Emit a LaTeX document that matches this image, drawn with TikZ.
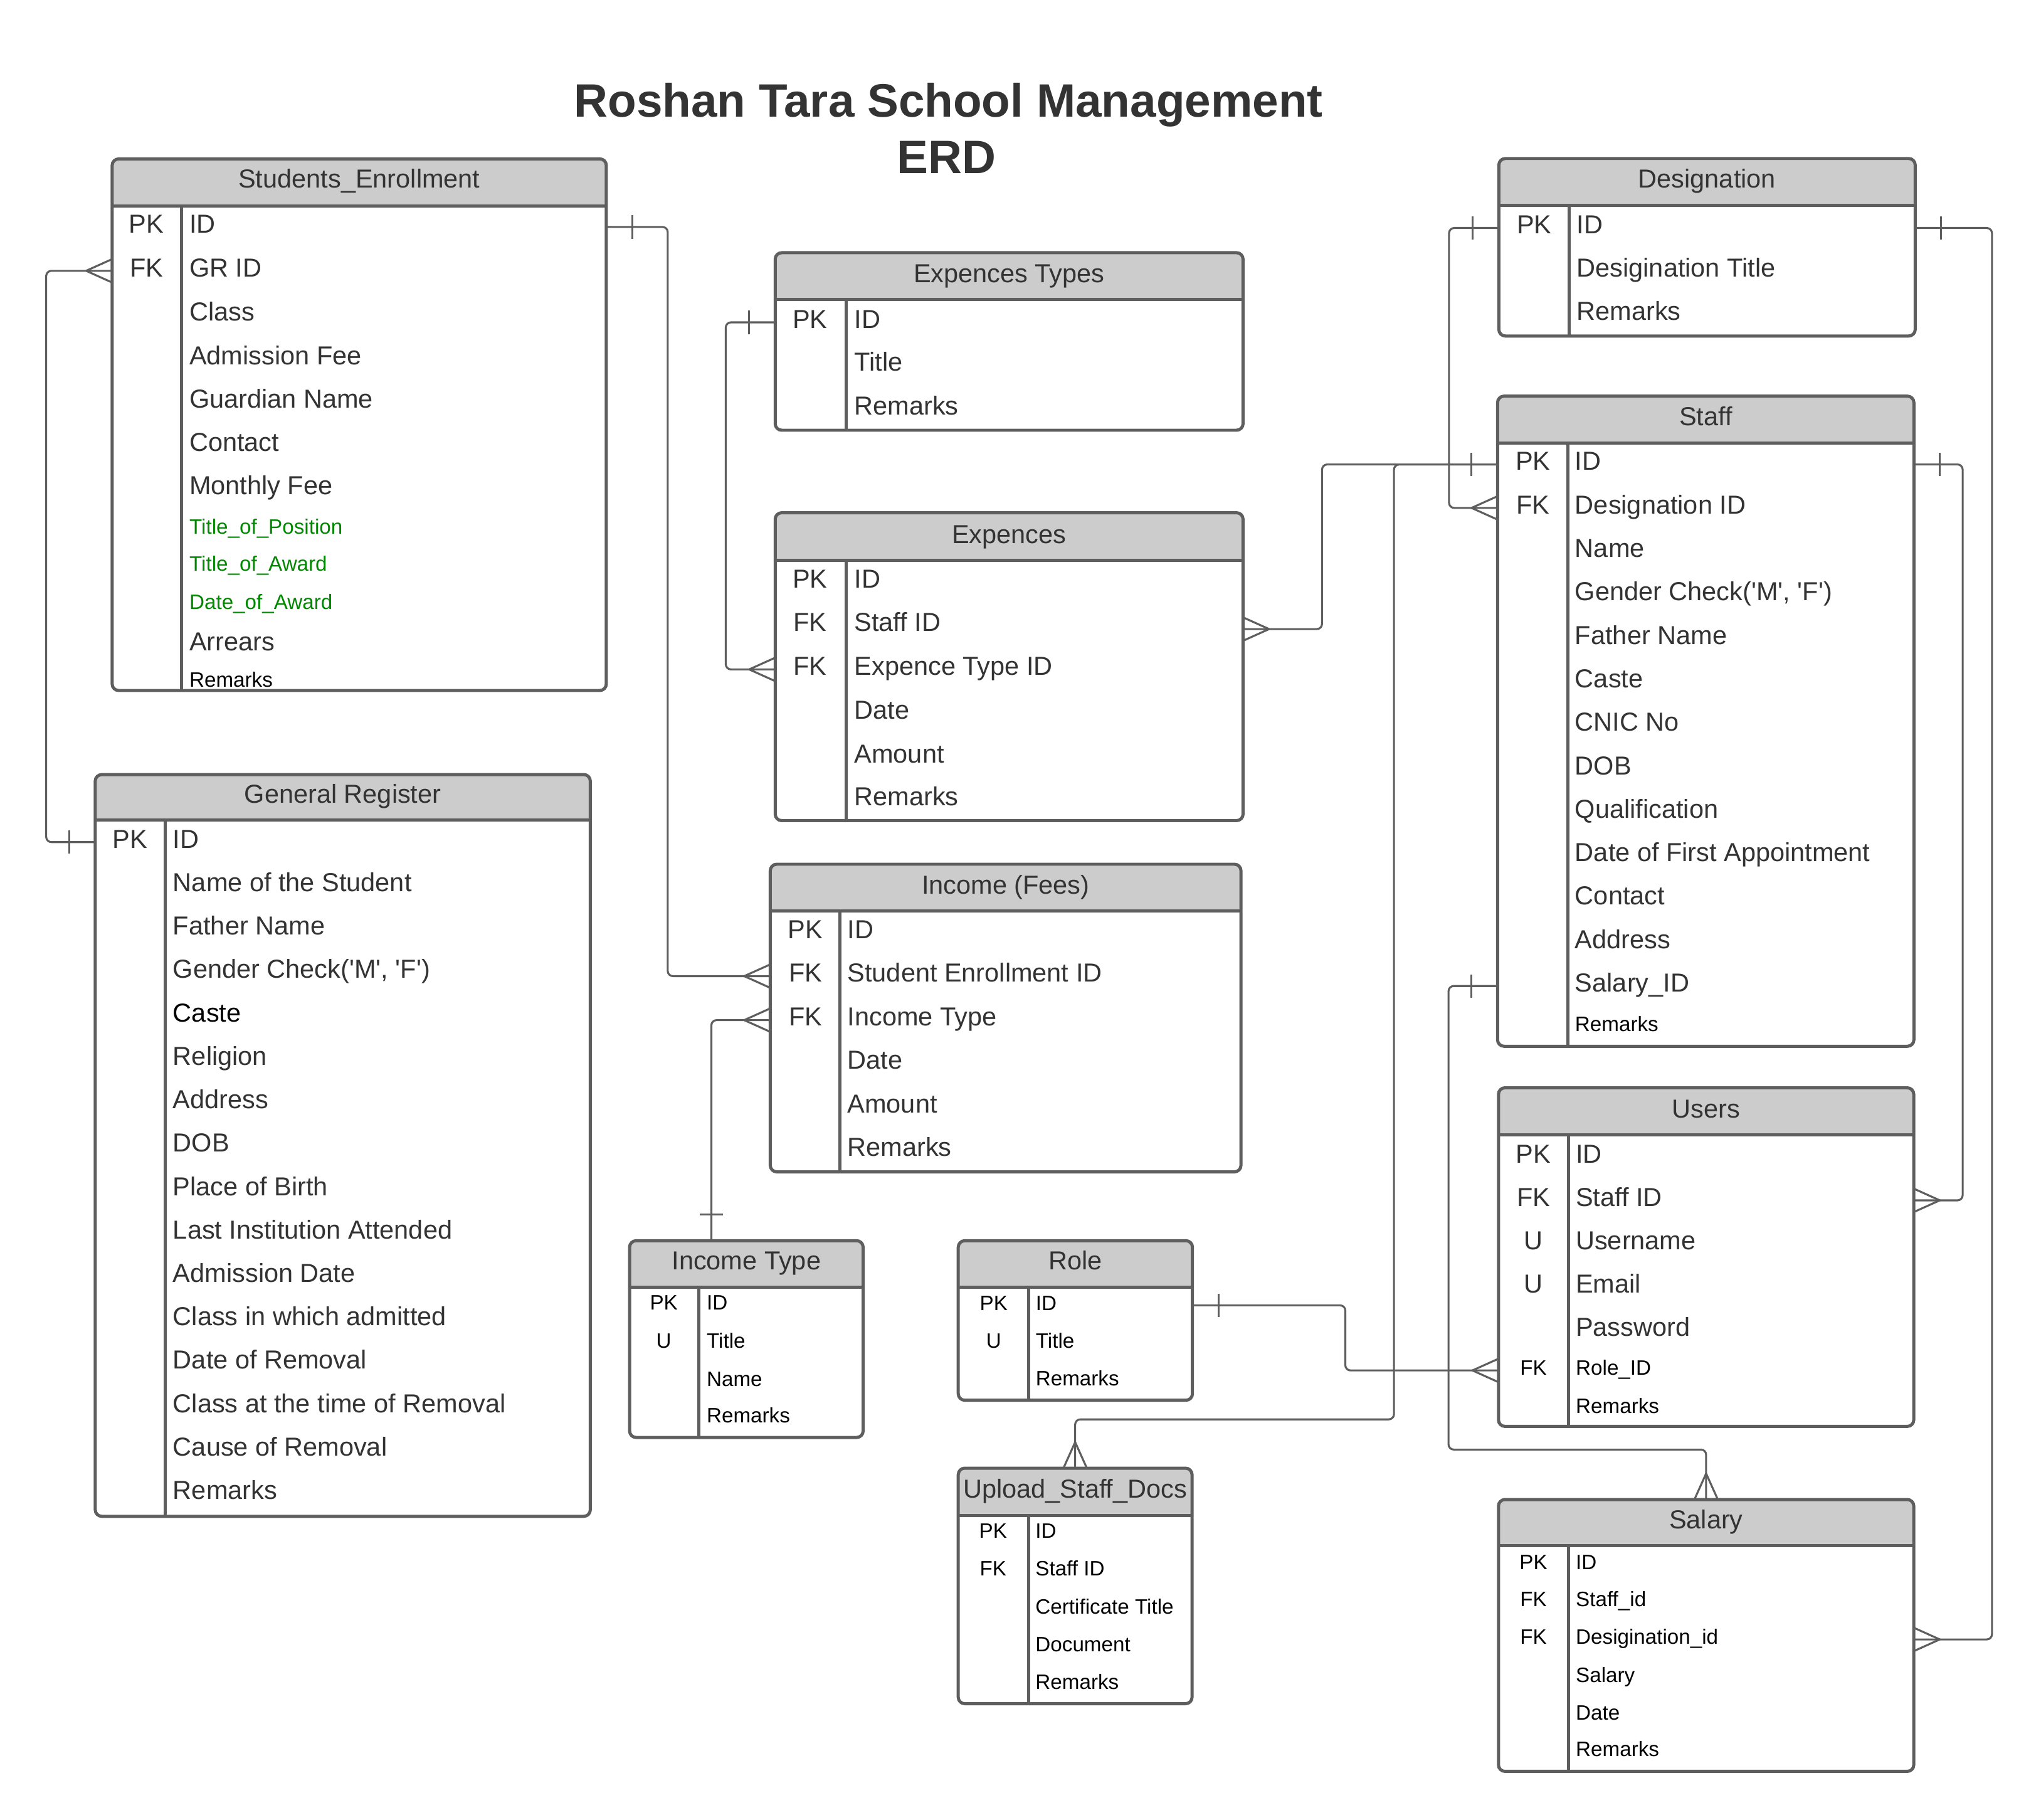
\documentclass[tikz,border=0pt]{standalone}
\usepackage{fontspec}
\setmainfont{Liberation Sans}
\usetikzlibrary{calc}
\definecolor{linec}{RGB}{94,94,94}
\definecolor{hdrc}{RGB}{204,204,204}
\definecolor{txt}{RGB}{51,51,51}
\definecolor{grn}{RGB}{0,136,0}
\newcommand{\sq}{\textquotesingle}
\tikzset{
  tbox/.style={inner sep=0pt, outer sep=0pt, anchor=north west},
  tline/.style={draw=linec, line width=2.4pt},
  hcell/.style={anchor=base, inner sep=0pt, font=\fontsize{20}{24}\selectfont, text=txt},
  acell/.style={anchor=west, inner sep=0pt, text height=14pt, text depth=5pt, font=\fontsize{20}{24}\selectfont, text=txt},
  kcell/.style={anchor=center, inner sep=0pt, text height=14pt, text depth=5pt, font=\fontsize{20}{24}\selectfont, text=txt},
  scell/.style={anchor=west, inner sep=0pt, text height=11.5pt, text depth=4.1pt, font=\fontsize{16}{19}\selectfont, text=black},
  skcell/.style={anchor=center, inner sep=0pt, text height=11.5pt, text depth=4.1pt, font=\fontsize{16}{19}\selectfont, text=black},
  gcell/.style={scell, text=grn},
  connl/.style={draw=linec, line width=1.5pt, rounded corners=4pt},
  crowl/.style={draw=linec, line width=1.5pt, line join=round},
  ttl/.style={anchor=base, inner sep=0pt, font=\fontsize{36}{43}\selectfont\bfseries, text=txt}
}
% #1 name, #2 left, #3 top, #4 right, #5 header bottom, #6 bottom, #7 divider x
\newcommand{\tframe}[7]{%
  \node[tbox, minimum width={#4-#2}, minimum height={#6-#3}] (#1) at (#2,#3) {};
  \begin{scope}
    \clip[rounded corners=5pt] (#2,#3) rectangle (#4,#6);
    \fill[hdrc] (#2,#3) rectangle (#4,#5);
  \end{scope}
  \draw[tline, rounded corners=5pt] (#2,#3) rectangle (#4,#6);
  \draw[tline] (#2,#5) -- (#4,#5);
  \draw[tline] (#7,#5) -- (#7,#6);
}
\newcommand{\barH}[2]{\draw[crowl] ($(#1)+(#2,-9)$) -- ($(#1)+(#2,9)$);}
\newcommand{\barV}[2]{\draw[crowl] ($(#1)+(-9,#2)$) -- ($(#1)+(9,#2)$);}
\newcommand{\crowH}[2]{\draw[crowl] ($(#1)+(0,-9)$) -- ($(#1)+(#2,0)$) -- ($(#1)+(0,9)$);}
\newcommand{\crowV}[2]{\draw[crowl] ($(#1)+(-9,0)$) -- ($(#1)+(0,#2)$) -- ($(#1)+(9,0)$);}
\begin{document}
\begin{tikzpicture}[x=1pt, y=-1pt]
\fill[white] (0,0) rectangle (1568.7,1398.1);
\useasboundingbox (0,0) rectangle (1568.7,1398.1);

% Title
\node[ttl] (title) at (729,90) {Roshan Tara School Management};
\node[ttl] (title2) at (727.3,133.3) {ERD};

% Students_Enrollment
\tframe{se}{86.2}{122.1}{466}{158.3}{530.6}{139.6}
\node[hcell] (se-h) at (276.1,144.5) {Students\_Enrollment};
\node[kcell] (se-k1) at (112.6,174.4) {PK};
\node[acell] (se-r1) at (145.4,174.4) {ID};
\node[kcell] (se-k2) at (112.6,208.1) {FK};
\node[acell] (se-r2) at (145.4,208.1) {GR ID};
\node[acell] (se-r3) at (145.4,241.9) {Class};
\node[acell] (se-r4) at (145.4,275.6) {Admission Fee};
\node[acell] (se-r5) at (145.4,308.8) {Guardian Name};
\node[acell] (se-r6) at (145.4,342.1) {Contact};
\node[acell] (se-r7) at (145.4,375.4) {Monthly Fee};
\node[gcell] (se-r8) at (145.4,406.5) {Title\_of\_Position};
\node[gcell] (se-r9) at (145.4,435.1) {Title\_of\_Award};
\node[gcell] (se-r10) at (145.4,464.3) {Date\_of\_Award};
\node[acell] (se-r11) at (145.4,495.7) {Arrears};
\node[scell] (se-r12) at (145.4,524.2) {Remarks};

% General Register
\tframe{gr}{73.2}{595.2}{453.7}{630.2}{1165.2}{127}
\node[hcell] (gr-h) at (263.45,617) {General Register};
\node[kcell] (gr-k1) at (99.9,647.1) {PK};
\node[acell] (gr-r1) at (132.8,647.1) {ID};
\node[acell] (gr-r2) at (132.8,680.5) {Name of the Student};
\node[acell] (gr-r3) at (132.8,713.8) {Father Name};
\node[acell] (gr-r4) at (132.8,747.2) {Gender Check(\sq M\sq, \sq F\sq)};
\node[acell, text=black] (gr-r5) at (132.8,780.6) {Caste};
\node[acell] (gr-r6) at (132.8,813.9) {Religion};
\node[acell] (gr-r7) at (132.8,847.3) {Address};
\node[acell] (gr-r8) at (132.8,880.7) {DOB};
\node[acell] (gr-r9) at (132.8,914.1) {Place of Birth};
\node[acell] (gr-r10) at (132.8,947.4) {Last Institution Attended};
\node[acell] (gr-r11) at (132.8,980.8) {Admission Date};
\node[acell] (gr-r12) at (132.8,1014.2) {Class in which admitted};
\node[acell] (gr-r13) at (132.8,1047.5) {Date of Removal};
\node[acell] (gr-r14) at (132.8,1080.9) {Class at the time of Removal};
\node[acell] (gr-r15) at (132.8,1114.3) {Cause of Removal};
\node[acell] (gr-r16) at (132.8,1147.7) {Remarks};

% Expences Types
\tframe{et}{595.8}{194.2}{955.4}{229.9}{330.6}{650.5}
\node[hcell] (et-h) at (775.6,217.2) {Expences Types};
\node[kcell] (et-k1) at (622.6,247.7) {PK};
\node[acell] (et-r1) at (656.5,247.7) {ID};
\node[acell] (et-r2) at (656.5,280.7) {Title};
\node[acell] (et-r3) at (656.5,314.3) {Remarks};

% Expences
\tframe{ex}{595.8}{394}{955.4}{430.8}{630.6}{650.5}
\node[hcell] (ex-h) at (775.6,417.5) {Expences};
\node[kcell] (ex-k1) at (622.6,447.3) {PK};
\node[acell] (ex-r1) at (656.5,447.3) {ID};
\node[kcell] (ex-k2) at (622.6,480.8) {FK};
\node[acell] (ex-r2) at (656.5,480.8) {Staff ID};
\node[kcell] (ex-k3) at (622.6,514.4) {FK};
\node[acell] (ex-r3) at (656.5,514.4) {Expence Type ID};
\node[acell] (ex-r4) at (656.5,548) {Date};
\node[acell] (ex-r5) at (656.5,581.6) {Amount};
\node[acell] (ex-r6) at (656.5,614.6) {Remarks};

% Income (Fees)
\tframe{inc}{592}{664.1}{953.8}{699.8}{900.5}{645.5}
\node[hcell] (inc-h) at (772.9,687) {Income (Fees)};
\node[kcell] (inc-k1) at (619.1,716.9) {PK};
\node[acell] (inc-r1) at (651.2,716.9) {ID};
\node[kcell] (inc-k2) at (619.1,750.1) {FK};
\node[acell] (inc-r2) at (651.2,750.1) {Student Enrollment ID};
\node[kcell] (inc-k3) at (619.1,783.9) {FK};
\node[acell] (inc-r3) at (651.2,783.9) {Income Type};
\node[acell] (inc-r4) at (651.2,817.1) {Date};
\node[acell] (inc-r5) at (651.2,850.7) {Amount};
\node[acell] (inc-r6) at (651.2,883.7) {Remarks};

% Income Type
\tframe{it}{483.9}{953.4}{663.4}{989.3}{1104.6}{537.3}
\node[hcell] (it-h) at (573.65,975.9) {Income Type};
\node[skcell] (it-k1) at (510.2,1003) {PK};
\node[scell] (it-r1) at (543,1003) {ID};
\node[skcell] (it-k2) at (510.2,1032.2) {U};
\node[scell] (it-r2) at (543,1032.2) {Title};
\node[scell] (it-r3) at (543,1061.5) {Name};
\node[scell] (it-r4) at (543,1089.6) {Remarks};

% Role
\tframe{ro}{736.5}{953.4}{916.5}{989.2}{1076}{790.8}
\node[hcell] (ro-h) at (826.5,975.9) {Role};
\node[skcell] (ro-k1) at (763.8,1003.1) {PK};
\node[scell] (ro-r1) at (795.9,1003.1) {ID};
\node[skcell] (ro-k2) at (763.8,1032.3) {U};
\node[scell] (ro-r2) at (795.9,1032.3) {Title};
\node[scell] (ro-r3) at (795.9,1061.3) {Remarks};

% Upload_Staff_Docs
\tframe{up}{736.5}{1128.2}{916.2}{1164.4}{1309.2}{790.5}
\node[hcell] (up-h) at (826.35,1151.3) {Upload\_Staff\_Docs};
\node[skcell] (up-k1) at (763.3,1178.2) {PK};
\node[scell] (up-r1) at (795.7,1178.2) {ID};
\node[skcell] (up-k2) at (763.3,1207.3) {FK};
\node[scell] (up-r2) at (795.7,1207.3) {Staff ID};
\node[scell] (up-r3) at (795.7,1236.5) {Certificate Title};
\node[scell] (up-r4) at (795.7,1265.3) {Document};
\node[scell] (up-r5) at (795.7,1294.5) {Remarks};

% Designation
\tframe{de}{1152}{121.8}{1472}{157.8}{258.2}{1206.2}
\node[hcell] (de-h) at (1312,144.5) {Designation};
\node[kcell] (de-k1) at (1179.2,175.2) {PK};
\node[acell] (de-r1) at (1211.7,175.2) {ID};
\node[acell] (de-r2) at (1211.7,208.3) {Desigination Title};
\node[acell] (de-r3) at (1211.7,241.6) {Remarks};

% Staff
\tframe{st}{1151}{304.4}{1471}{340.4}{804}{1205}
\node[hcell] (st-h) at (1311,327.1) {Staff};
\node[kcell] (st-k1) at (1178.3,356.9) {PK};
\node[acell] (st-r1) at (1210.4,356.9) {ID};
\node[kcell] (st-k2) at (1178.3,390.3) {FK};
\node[acell] (st-r2) at (1210.4,390.3) {Designation ID};
\node[acell] (st-r3) at (1210.4,423.7) {Name};
\node[acell] (st-r4) at (1210.4,457.1) {Gender Check(\sq M\sq, \sq F\sq)};
\node[acell] (st-r5) at (1210.4,490.5) {Father Name};
\node[acell] (st-r6) at (1210.4,523.9) {Caste};
\node[acell] (st-r7) at (1210.4,557.3) {CNIC No};
\node[acell] (st-r8) at (1210.4,590.7) {DOB};
\node[acell] (st-r9) at (1210.4,624.1) {Qualification};
\node[acell] (st-r10) at (1210.4,657.5) {Date of First Appointment};
\node[acell] (st-r11) at (1210.4,690.9) {Contact};
\node[acell] (st-r12) at (1210.4,724.3) {Address};
\node[acell] (st-r13) at (1210.4,757.7) {Salary\_ID};
\node[scell] (st-r14) at (1210.4,788.8) {Remarks};

% Users
\tframe{us}{1151.7}{835.9}{1470.9}{872.1}{1096.1}{1205.5}
\node[hcell] (us-h) at (1311.3,859) {Users};
\node[kcell] (us-k1) at (1178.6,889.2) {PK};
\node[acell] (us-r1) at (1211,889.2) {ID};
\node[kcell] (us-k2) at (1178.6,922.4) {FK};
\node[acell] (us-r2) at (1211,922.4) {Staff ID};
\node[kcell] (us-k3) at (1178.6,955.6) {U};
\node[acell] (us-r3) at (1211,955.6) {Username};
\node[kcell] (us-k4) at (1178.6,988.9) {U};
\node[acell] (us-r4) at (1211,988.9) {Email};
\node[acell] (us-r5) at (1211,1022.1) {Password};
\node[skcell] (us-k6) at (1178.6,1053.1) {FK};
\node[scell] (us-r6) at (1211,1053.1) {Role\_ID};
\node[scell] (us-r7) at (1211,1082.2) {Remarks};

% Salary
\tframe{sa}{1151.7}{1152.3}{1470.9}{1187.7}{1361.2}{1205.5}
\node[hcell] (sa-h) at (1311.3,1174.6) {Salary};
\node[skcell] (sa-k1) at (1178.6,1202.2) {PK};
\node[scell] (sa-r1) at (1211,1202.2) {ID};
\node[skcell] (sa-k2) at (1178.6,1231) {FK};
\node[scell] (sa-r2) at (1211,1231) {Staff\_id};
\node[skcell] (sa-k3) at (1178.6,1259.8) {FK};
\node[scell] (sa-r3) at (1211,1259.8) {Desigination\_id};
\node[scell] (sa-r4) at (1211,1289) {Salary};
\node[scell] (sa-r5) at (1211,1317.8) {Date};
\node[scell] (sa-r6) at (1211,1346.1) {Remarks};

% ---------- connectors ----------
% General Register PK -> Students_Enrollment GR ID
\coordinate (c1a) at (gr.west |- gr-r1);
\coordinate (c1b) at (se.west |- se-r2);
\draw[connl] (c1a) -- ++(-37.7,0) |- (c1b);
\barH{c1a}{-20}
\crowH{c1b}{-20}

% Students_Enrollment PK -> Income Student Enrollment ID
\coordinate (c2a) at (se.east |- se-r1);
\coordinate (c2b) at (inc.west |- inc-r2);
\draw[connl] (c2a) -- ++(47.2,0) |- (c2b);
\barH{c2a}{20}
\crowH{c2b}{-20}

% Income Type -> Income Income Type
\coordinate (c3a) at ($(it.north)+(-26.9,0)$);
\coordinate (c3b) at (inc.west |- inc-r3);
\draw[connl] (c3a) |- (c3b);
\barV{c3a}{-20}
\crowH{c3b}{-20}

% Expences Types PK -> Expences Expence Type ID
\coordinate (c4a) at (et.west |- et-r1);
\coordinate (c4b) at (ex.west |- ex-r3);
\draw[connl] (c4a) -- ++(-38,0) |- (c4b);
\barH{c4a}{-20}
\crowH{c4b}{-20}

% Staff PK -> Expences Staff ID
\coordinate (c5a) at (st.west |- st-r1);
\coordinate (c5b) at ($(ex.east |- ex-r2)+(0,2.6)$);
\draw[connl] (c5a) -- ++(-134.9,0) |- (c5b);
\barH{c5a}{-20}
\crowH{c5b}{20}

% Staff PK -> Upload_Staff_Docs
\draw[connl] (c5a) -- ++(-79.6,0) -- ++(0,733.8) -| (up.north);
\crowV{up.north}{-20}

% Designation PK -> Staff Designation ID
\coordinate (c7a) at (de.west |- de-r1);
\coordinate (c7b) at (st.west |- st-r2);
\draw[connl] (c7a) -- ++(-38.3,0) |- (c7b);
\barH{c7a}{-20}
\crowH{c7b}{-20}

% Designation PK -> Salary Desigination_id
\coordinate (c8a) at (de.east |- de-r1);
\coordinate (c8b) at (sa.east |- sa-r3);
\draw[connl] (c8a) -- ++(59,0) |- (c8b);
\barH{c8a}{20}
\crowH{c8b}{20}

% Staff PK -> Users Staff ID
\coordinate (c9a) at (st.east |- st-r1);
\coordinate (c9b) at (us.east |- us-r2);
\draw[connl] (c9a) -- ++(37.5,0) |- (c9b);
\barH{c9a}{20}
\crowH{c9b}{20}

% Role ID -> Users Role_ID
\coordinate (c10a) at (ro.east |- ro-r1);
\coordinate (c10b) at (us.west |- us-r6);
\draw[connl] (c10a) -- ++(117.5,0) |- (c10b);
\barH{c10a}{20}
\crowH{c10b}{-20}

% Staff Salary_ID -> Salary
\coordinate (c11a) at (st.west |- st-r13);
\draw[connl] (c11a) -- ++(-37.7,0) -- ++(0,356.2) -| (sa.north);
\barH{c11a}{-20}
\crowV{sa.north}{-20}
\end{tikzpicture}
\end{document}
